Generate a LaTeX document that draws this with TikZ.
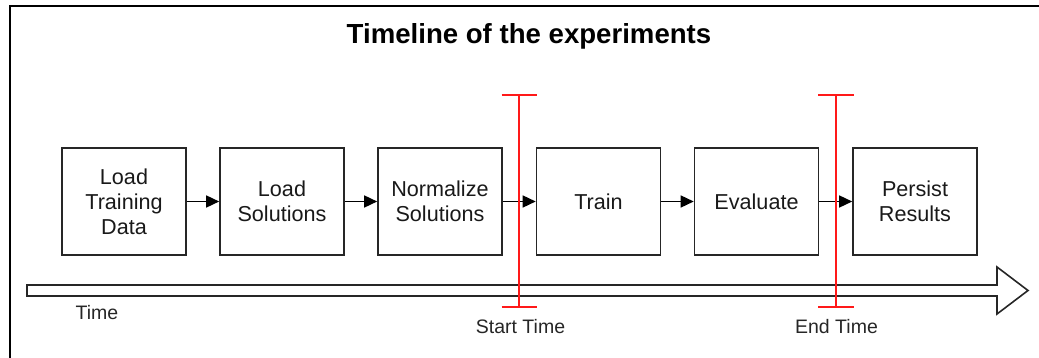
\documentclass[tikz,border=0pt]{standalone}
\usepackage{fontspec}
\setmainfont{Liberation Sans}
\usetikzlibrary{arrows.meta}
\begin{document}
\begin{tikzpicture}[x=1pt,y=-1pt,
  stepbox/.style={draw=black!85, line width=1.6pt, minimum width=124pt, minimum height=107pt,
    inner sep=0pt, align=center, text=black!90, font=\fontsize{21.6}{25}\selectfont},
  flow/.style={draw=black, line width=1.5pt, -{Triangle[length=13pt,width=12pt]}},
  marker/.style={draw=red!90!white, line width=1.8pt},
  tlabel/.style={text=black!85, inner sep=0pt, font=\fontsize{19.5}{22}\selectfont},
]
\useasboundingbox (0,0) rectangle (1039,358);
% outer frame (top and left edges)
\draw[line width=2pt, black] (10,358) -- (10,6.5) -- (1039,6.5);

% title
\node[font=\bfseries\fontsize{27.6}{30}\selectfont, text=black, inner sep=0pt] (title) at (529,36) {Timeline of the experiments};

% time axis (hollow block arrow)
\draw[line width=1.6pt, draw=black!85, fill=white]
  (27,285) -- (997,285) -- (997,267) -- (1028,290.5) -- (997,314) -- (997,296) -- (27,296) -- cycle;
\node[tlabel] (time) at (97,313) {Time};

% process steps
\node[stepbox] (b1) at (124,201.5) {Load\\Training\\Data};
\node[stepbox] (b2) at (282,201.5) {Load\\Solutions};
\node[stepbox] (b3) at (440,201.5) {Normalize\\Solutions};
\node[stepbox] (b4) at (598.5,201.5) {Train};
\node[stepbox] (b5) at (756.5,201.5) {Evaluate};
\node[stepbox] (b6) at (915,201.5) {Persist\\Results};

\draw[flow] (b1) -- (b2);
\draw[flow] (b2) -- (b3);
\draw[flow] (b3) -- (b4);
\draw[flow] (b4) -- (b5);
\draw[flow] (b5) -- (b6);

% start / end time markers
\coordinate (st) at (519,95);
\coordinate (sb) at (519,307);
\coordinate (et) at (836,95);
\coordinate (eb) at (836,307);
\draw[marker] (st) -- (sb);
\draw[marker] ([xshift=-17.5pt]st) -- ([xshift=17.5pt]st);
\draw[marker] ([xshift=-17.5pt]sb) -- ([xshift=17.5pt]sb);
\draw[marker] (et) -- (eb);
\draw[marker] ([xshift=-18pt]et) -- ([xshift=18pt]et);
\draw[marker] ([xshift=-18pt]eb) -- ([xshift=18pt]eb);
\node[tlabel] (start) at (520.5,327) {Start Time};
\node[tlabel] (end) at (836.5,327) {End Time};
\end{tikzpicture}
\end{document}
